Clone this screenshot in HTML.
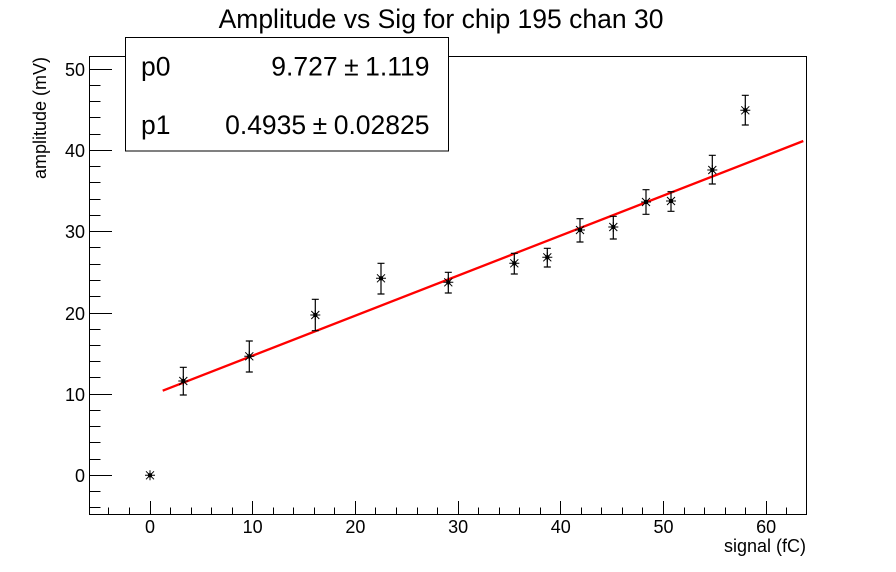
<!DOCTYPE html>
<html>
<head>
<meta charset="utf-8">
<style>
  html,body{margin:0;padding:0;background:#fff;}
  svg{display:block;}
  text{font-family:"Liberation Sans", Arial, Helvetica, sans-serif; fill:#000;}
</style>
</head>
<body>
<svg width="896" height="572" viewBox="0 0 896 572" xmlns="http://www.w3.org/2000/svg">
  <rect x="0" y="0" width="896" height="572" fill="#fff"/>

  <!-- Title -->
  <text x="441" y="28" font-size="26.5" text-anchor="middle">Amplitude vs Sig for chip 195 chan 30</text>

  <!-- Frame -->
  <rect x="89.5" y="56.5" width="717" height="458" fill="none" stroke="#000" stroke-width="1"/>

  <!-- Y major ticks -->
  <path stroke="#000" stroke-width="1" fill="none" d="
    M89.5 475.5H112 M89.5 394.5H112 M89.5 313.5H112 M89.5 231.5H112 M89.5 150.5H112 M89.5 69.5H112"/>
  <!-- Y minor ticks -->
  <path stroke="#000" stroke-width="1" fill="none" d="
    M89.5 507.5H100.5 M89.5 491.5H100.5
    M89.5 459.5H100.5 M89.5 442.5H100.5 M89.5 426.5H100.5 M89.5 410.5H100.5
    M89.5 377.5H100.5 M89.5 361.5H100.5 M89.5 345.5H100.5 M89.5 329.5H100.5
    M89.5 296.5H100.5 M89.5 280.5H100.5 M89.5 264.5H100.5 M89.5 247.5H100.5
    M89.5 215.5H100.5 M89.5 199.5H100.5 M89.5 182.5H100.5 M89.5 166.5H100.5
    M89.5 134.5H100.5 M89.5 117.5H100.5 M89.5 101.5H100.5 M89.5 85.5H100.5"/>

  <!-- X major ticks -->
  <path stroke="#000" stroke-width="1" fill="none" d="
    M150.5 514.5V501 M252.5 514.5V501 M355.5 514.5V501 M458.5 514.5V501
    M560.5 514.5V501 M663.5 514.5V501 M766.5 514.5V501"/>
  <!-- X minor ticks -->
  <path stroke="#000" stroke-width="1" fill="none" d="
    M108.5 514.5V507.5 M129.5 514.5V507.5
    M170.5 514.5V507.5 M191.5 514.5V507.5 M211.5 514.5V507.5 M232.5 514.5V507.5
    M273.5 514.5V507.5 M293.5 514.5V507.5 M314.5 514.5V507.5 M334.5 514.5V507.5
    M375.5 514.5V507.5 M396.5 514.5V507.5 M417.5 514.5V507.5 M437.5 514.5V507.5
    M478.5 514.5V507.5 M499.5 514.5V507.5 M519.5 514.5V507.5 M540.5 514.5V507.5
    M581.5 514.5V507.5 M601.5 514.5V507.5 M622.5 514.5V507.5 M642.5 514.5V507.5
    M684.5 514.5V507.5 M704.5 514.5V507.5 M725.5 514.5V507.5 M745.5 514.5V507.5
    M786.5 514.5V507.5"/>

  <!-- Y tick labels -->
  <g font-size="18" text-anchor="end">
    <text x="85" y="482">0</text>
    <text x="85" y="401">10</text>
    <text x="85" y="320">20</text>
    <text x="85" y="238">30</text>
    <text x="85" y="157">40</text>
    <text x="85" y="76">50</text>
  </g>

  <!-- X tick labels -->
  <g font-size="18" text-anchor="middle">
    <text x="150" y="533">0</text>
    <text x="252.7" y="533">10</text>
    <text x="355.4" y="533">20</text>
    <text x="458.1" y="533">30</text>
    <text x="560.8" y="533">40</text>
    <text x="663.5" y="533">50</text>
    <text x="766.2" y="533">60</text>
  </g>

  <!-- Axis titles -->
  <text x="806" y="552" font-size="18" text-anchor="end">signal (fC)</text>
  <text transform="translate(46,57) rotate(-90)" x="0" y="0" font-size="18" text-anchor="end">amplitude (mV)</text>

  <!-- Fit line -->
  <line x1="162.7" y1="390.7" x2="803.3" y2="141" stroke="#ff0000" stroke-width="2.3"/>

  <!-- Error bars -->
  <path stroke="#000" stroke-width="1.2" fill="none" d="
    M183.3 367.3V395 M179.8 367.3H186.8 M179.8 395H186.8
    M249.3 341V372 M245.8 341H252.8 M245.8 372H252.8
    M315.3 299.3V330.7 M311.8 299.3H318.8 M311.8 330.7H318.8
    M381 263.3V294 M377.5 263.3H384.5 M377.5 294H384.5
    M448.3 272.3V293 M444.8 272.3H451.8 M444.8 293H451.8
    M514.3 253.3V274 M510.8 253.3H517.8 M510.8 274H517.8
    M547.3 248.3V267 M543.8 248.3H550.8 M543.8 267H550.8
    M580 218.7V242 M576.5 218.7H583.5 M576.5 242H583.5
    M613.3 216.3V239 M609.8 216.3H616.8 M609.8 239H616.8
    M646 189.7V214.3 M642.5 189.7H649.5 M642.5 214.3H649.5
    M671 191.7V211.3 M667.5 191.7H674.5 M667.5 211.3H674.5
    M712.3 155.3V184 M708.8 155.3H715.8 M708.8 184H715.8
    M745.3 95.3V125 M741.8 95.3H748.8 M741.8 125H748.8"/>

  <!-- Star markers -->
  <defs>
    <g id="mk">
      <path d="M-5 0H5 M0 -5V5 M-4 -4L4 4 M-4 4L4 -4" stroke="#000" stroke-width="1" fill="none"/>
      <rect x="-2" y="-2" width="4" height="4" fill="#000"/>
    </g>
  </defs>
  <use href="#mk" x="150" y="475.3"/>
  <use href="#mk" x="183.3" y="381"/>
  <use href="#mk" x="249.3" y="356.3"/>
  <use href="#mk" x="315.3" y="315"/>
  <use href="#mk" x="381" y="278.3"/>
  <use href="#mk" x="448.3" y="282.3"/>
  <use href="#mk" x="514.3" y="263.3"/>
  <use href="#mk" x="547.3" y="257.3"/>
  <use href="#mk" x="580" y="230"/>
  <use href="#mk" x="613.3" y="227"/>
  <use href="#mk" x="646" y="202"/>
  <use href="#mk" x="671" y="201"/>
  <use href="#mk" x="712.3" y="170"/>
  <use href="#mk" x="745.3" y="110.3"/>

  <!-- Stats box -->
  <rect x="125.5" y="37.5" width="323" height="113.5" fill="#fff" stroke="#000" stroke-width="1"/>
  <g font-size="26.5">
    <text x="141" y="75.5">p0</text>
    <text x="141" y="134">p1</text>
    <text x="429.5" y="75.5" text-anchor="end">9.727<tspan dx="6.5">±</tspan><tspan dx="6.5">1.119</tspan></text>
    <text x="429.5" y="134" text-anchor="end">0.4935<tspan dx="6.5">±</tspan><tspan dx="6.5">0.02825</tspan></text>
  </g>
</svg>
</body>
</html>
